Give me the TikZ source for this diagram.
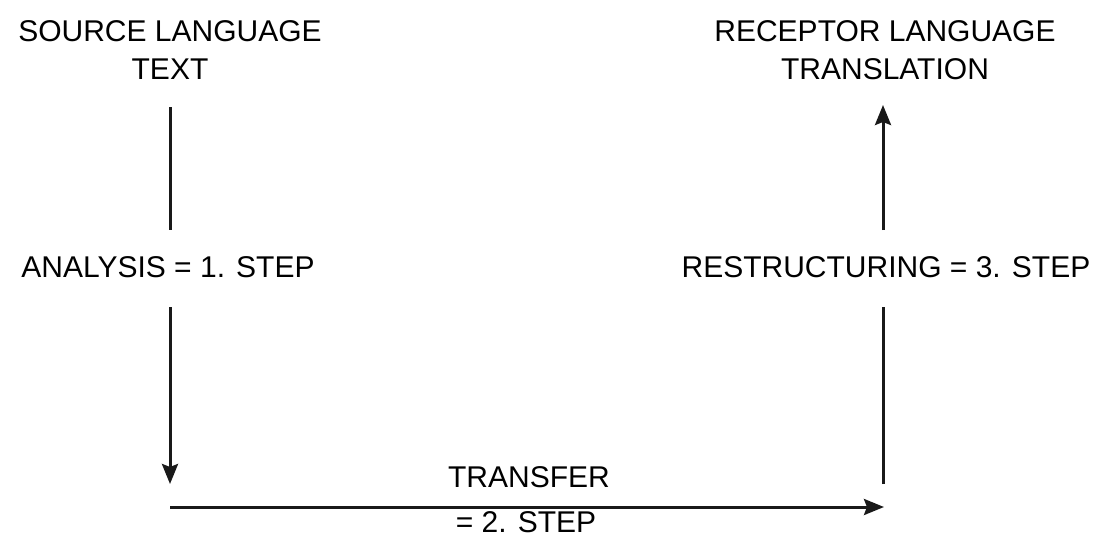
\documentclass[tikz,border=0pt]{standalone}
\usepackage{fontspec}
\setmainfont{Liberation Sans}
\usetikzlibrary{arrows.meta}
\begin{document}
\begin{tikzpicture}[x=1pt,y=-1pt,
  lbl/.style={font=\fontsize{30}{38}\selectfont, inner sep=0pt, align=center, text=black},
  conn/.style={line width=3pt, draw=black!90},
  tip/.style={-{Stealth[length=20pt,width=16pt,inset=3pt]}}]
\useasboundingbox (0,0) rectangle (1104,539);
% labels
\node[lbl, anchor=base] (src) at (170,79) {SOURCE LANGUAGE\\TEXT};
\node[lbl, anchor=base] (tgt) at (885,79) {RECEPTOR LANGUAGE\\TRANSLATION};
\node[lbl, anchor=base] (analysis) at (168,277) {ANALYSIS = 1. STEP};
\node[lbl, anchor=base] (restr) at (886,277) {RESTRUCTURING = 3. STEP};
\node[lbl, anchor=base] (transfer) at (529,487) {TRANSFER};
\node[lbl, anchor=base] (step2) at (526,532) {= 2. STEP};
% endpoints
\coordinate (a0) at (170,107);
\coordinate (a1) at (170,230);
\coordinate (a2) at (170,307);
\coordinate (a3) at (170,484);
\coordinate (h0) at (170,507);
\coordinate (h1) at (884,507);
\coordinate (r0) at (883,484);
\coordinate (r1) at (883,307);
\coordinate (r2) at (883,230);
\coordinate (r3) at (883,105);
% connectors
\draw[conn] (a0) -- (a1);
\draw[conn, tip] (a2) -- (a3);
\draw[conn, tip] (h0) -- (h1);
\draw[conn] (r0) -- (r1);
\draw[conn, tip] (r2) -- (r3);
\end{tikzpicture}
\end{document}
